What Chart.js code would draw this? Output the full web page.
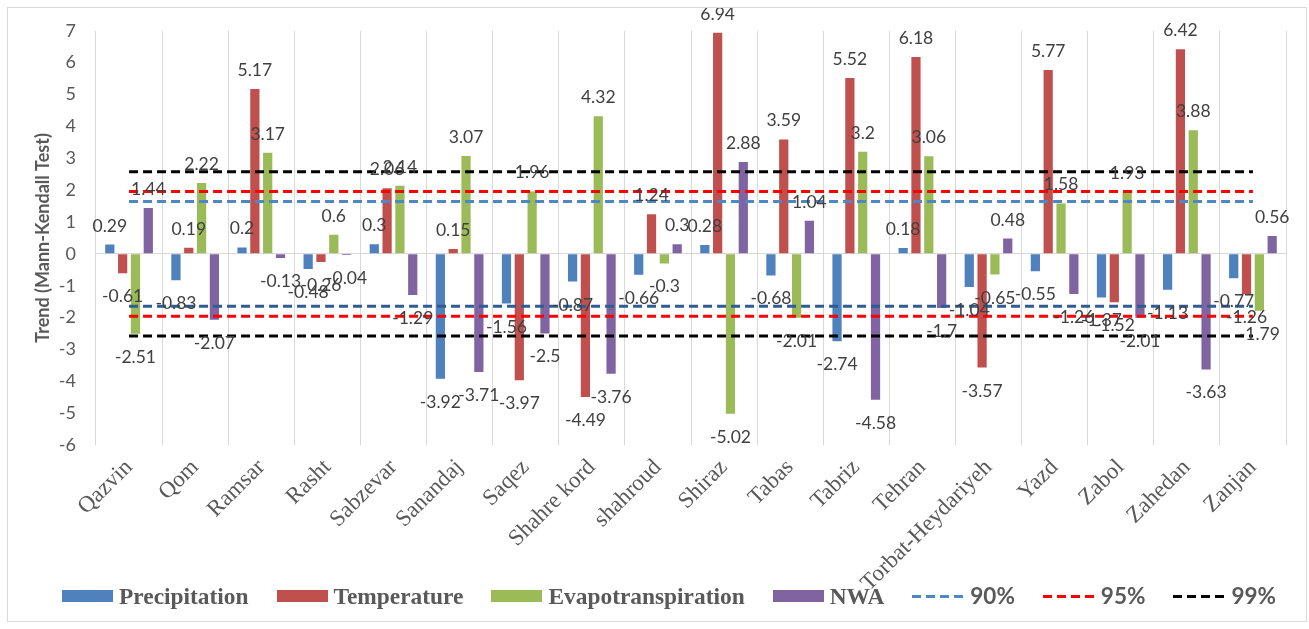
<!DOCTYPE html>
<html>
<head>
<meta charset="utf-8">
<script src="https://cdn.jsdelivr.net/npm/chart.js@4/dist/chart.umd.min.js"></script>
<style>
  html, body { margin: 0; padding: 0; background: #fff; }
  #wrap { position: relative; width: 1309px; height: 629px; overflow: hidden; background: #fff; }
  #c { position: absolute; left: 0; top: 0; }
  #frame { position: absolute; left: 7px; top: 7px; width: 1300px; height: 615px;
           border: 1px solid #D9D9D9; box-sizing: border-box; pointer-events: none; }
  #legend { position: absolute; left: 62px; top: 581px; height: 30px;
            display: flex; align-items: center; gap: 28px; }
  .item { display: flex; align-items: center; gap: 6px; }
  .sw { width: 51px; height: 12px; }
  .ln { width: 52px; height: 3px; }
  .name { font: bold 23.4px "Liberation Serif", serif; color: #595959; line-height: 30px; }
  .pct { font: bold 22.5px Lato, sans-serif; color: #595959; line-height: 30px; }
</style>
</head>
<body>
<div id="wrap">
  <canvas id="c" width="1309" height="629"></canvas>
  <div id="frame"></div>
  <div id="legend"></div>
</div>
<script>
// Stations
const categories = ['Qazvin', 'Qom', 'Ramsar', 'Rasht', 'Sabzevar', 'Sanandaj', 'Saqez',
  'Shahre kord', 'shahroud', 'Shiraz', 'Tabas', 'Tabriz', 'Tehran', 'Torbat-Heydariyeh',
  'Yazd', 'Zabol', 'Zahedan', 'Zanjan'];

// Mann-Kendall Z statistics per station
const precipitation = [0.29, -0.83, 0.2, -0.48, 0.3, -3.92, -1.56, -0.87, -0.66, 0.28,
  -0.68, -2.74, 0.18, -1.04, -0.55, -1.37, -1.13, -0.77];
const temperature = [-0.61, 0.19, 5.17, -0.26, 2.06, 0.15, -3.97, -4.49, 1.24, 6.94,
  3.59, 5.52, 6.18, -3.57, 5.77, -1.52, 6.42, -1.26];
const evapotranspiration = [-2.51, 2.22, 3.17, 0.6, 2.14, 3.07, 1.96, 4.32, -0.3, -5.02,
  -2.01, 3.2, 3.06, -0.65, 1.58, 1.93, 3.88, -1.79];
const nwa = [1.44, -2.07, -0.13, -0.04, -1.29, -3.71, -2.5, -3.76, 0.3, 2.88,
  1.04, -4.58, -1.7, 0.48, -1.26, -2.01, -3.63, 0.56];

// Significance levels and their critical Z values
const significanceLevels = ['90%', '95%', '99%'];
const criticalZ = [1.645, 1.96, 2.576];

// Y axis ticks
const yTickValues = [-6, -5, -4, -3, -2, -1, 0, 1, 2, 3, 4, 5, 6, 7];

const seriesNames = ['Precipitation', 'Temperature', 'Evapotranspiration', 'NWA'];
const seriesValues = [precipitation, temperature, evapotranspiration, nwa];
const barColors = ['#4F81BD', '#C0504D', '#9BBB59', '#8064A2'];
const levelColorsPos = ['#4F86C6', '#FF0000', '#000000'];
const levelColorsNeg = ['#2F5C93', '#FF0000', '#000000'];

const barSets = seriesNames.map((name, i) => ({
  type: 'bar',
  label: name,
  data: seriesValues[i],
  backgroundColor: barColors[i],
  borderWidth: 0,
  categoryPercentage: 0.776,
  barPercentage: 0.72,
  order: 1
}));

const lineSets = [];
significanceLevels.forEach((lvl, i) => {
  [1, -1].forEach(sign => {
    lineSets.push({
      type: 'line',
      label: lvl,
      data: categories.map(() => sign * criticalZ[i]),
      borderColor: sign > 0 ? levelColorsPos[i] : levelColorsNeg[i],
      borderWidth: 3,
      borderDash: [9, 5],
      pointRadius: 0,
      fill: false,
      order: 0
    });
  });
});

// Value labels at the outer end of every bar
const barValueLabels = {
  id: 'barValueLabels',
  afterDatasetsDraw(chart) {
    const ctx = chart.ctx;
    ctx.save();
    ctx.font = '17.5px Lato';
    ctx.fillStyle = '#404040';
    ctx.textAlign = 'center';
    ctx.textBaseline = 'alphabetic';
    chart.data.datasets.forEach((ds, di) => {
      if (ds.type !== 'bar') return;
      const meta = chart.getDatasetMeta(di);
      meta.data.forEach((el, j) => {
        const v = ds.data[j];
        const y = v >= 0 ? el.y - 13 : el.y + 29;
        ctx.fillText(String(v), el.x, y);
      });
    });
    ctx.restore();
  }
};

new Chart(document.getElementById('c'), {
  data: { labels: categories, datasets: [...lineSets, ...barSets] },
  options: {
    responsive: false,
    animation: false,
    layout: { padding: { top: 28, right: 23, left: 0, bottom: 0 } },
    plugins: { legend: { display: false }, tooltip: { enabled: false } },
    scales: {
      x: {
        offset: true,
        grid: { offset: true, color: '#D9D9D9', lineWidth: 1, drawTicks: false },
        border: { display: false },
        ticks: {
          font: { family: 'Liberation Serif', size: 23 },
          color: '#595959',
          minRotation: 45,
          maxRotation: 45,
          padding: 9,
          autoSkip: false
        },
        afterFit(scale) { scale.height = 184; }
      },
      y: {
        min: -6,
        max: 7,
        afterBuildTicks(scale) { scale.ticks = yTickValues.map(v => ({ value: v })); },
        grid: {
          drawTicks: false,
          color: c => (c.tick && c.tick.value === 0 ? '#D9D9D9' : 'rgba(0,0,0,0)'),
          lineWidth: 1
        },
        border: { display: false },
        ticks: { font: { family: 'Lato', size: 18 }, color: '#595959', padding: 20 },
        title: {
          display: true,
          text: 'Trend (Mann-Kendall Test)',
          font: { family: 'Lato', size: 18, weight: 'bold' },
          color: '#595959',
          padding: { top: 32, bottom: 0 }
        },
        afterFit(scale) { scale.width = 96; }
      }
    }
  },
  plugins: [barValueLabels]
});

// Legend
const legend = document.getElementById('legend');
seriesNames.forEach((name, i) => {
  const it = document.createElement('div');
  it.className = 'item';
  it.innerHTML = '<span class="sw" style="background:' + barColors[i] + '"></span><span class="name">' + name + '</span>';
  legend.appendChild(it);
});
significanceLevels.forEach((lvl, i) => {
  const c = levelColorsPos[i];
  const it = document.createElement('div');
  it.className = 'item';
  it.innerHTML = '<span class="ln" style="background:repeating-linear-gradient(to right,' + c + ' 0 9px, transparent 9px 14px)"></span><span class="pct">' + lvl + '</span>';
  legend.appendChild(it);
});
</script>
</body>
</html>
